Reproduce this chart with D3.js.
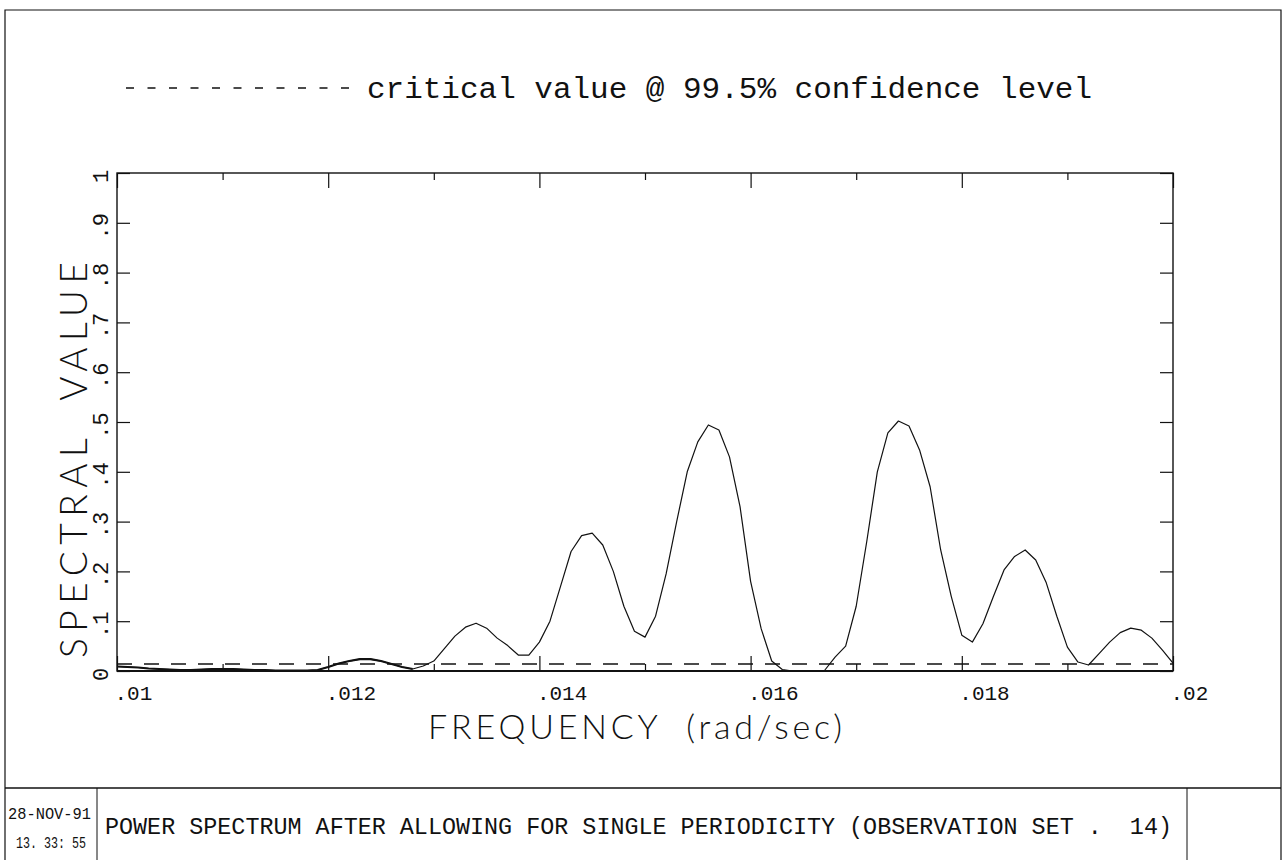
<!DOCTYPE html>
<html>
<head>
<meta charset="utf-8">
<script src="https://cdn.jsdelivr.net/npm/d3@7"></script>
<style>
  html, body { margin: 0; padding: 0; background: #fff; }
  svg { display: block; }
  text { font-family: "Liberation Mono", "DejaVu Sans Mono", monospace; fill: #111; white-space: pre; }
  .thin { font-family: "Lato", "Liberation Sans", sans-serif; font-weight: 300; }
</style>
</head>
<body>
<svg id="chart" width="1285" height="860"></svg>
<script>
// ---------------- data ----------------
const freqStart = 0.0100;
const freqStep = 0.0001;
// spectral value at frequencies .0100, .0101, ... .0200
const spectralValues = [
  0.009, 0.008, 0.007, 0.005, 0.004, 0.003, 0.002, 0.002, 0.003, 0.004,
  0.004, 0.004, 0.003, 0.002, 0.002, 0.001, 0.001, 0.001, 0.001, 0.002,
  0.008, 0.015, 0.020, 0.024, 0.024, 0.020, 0.014, 0.008, 0.004, 0.010,
  0.020, 0.045, 0.070, 0.088, 0.096, 0.086, 0.066, 0.051, 0.032, 0.032,
  0.058, 0.100, 0.170, 0.240, 0.272, 0.277, 0.253, 0.200, 0.130, 0.080,
  0.068, 0.110, 0.195, 0.300, 0.400, 0.460, 0.494, 0.484, 0.430, 0.330,
  0.180, 0.085, 0.020, 0.003, 0.000, 0.000, 0.000, 0.001, 0.028, 0.050,
  0.130, 0.260, 0.400, 0.478, 0.502, 0.492, 0.444, 0.370, 0.243, 0.150,
  0.072, 0.058, 0.095, 0.150, 0.203, 0.230, 0.243, 0.223, 0.177, 0.110,
  0.048, 0.018, 0.012, 0.035, 0.058, 0.077, 0.086, 0.082, 0.066, 0.042,
  0.016
];
const criticalValue = 0.014;
const boldUntilFreq = 0.0128;   // left part of the curve is drawn heavier in the original

const xMajorTicks = [0.010, 0.012, 0.014, 0.016, 0.018, 0.020];
const xMinorTicks = [0.011, 0.013, 0.015, 0.017, 0.019];
const yTicks = [0, 0.1, 0.2, 0.3, 0.4, 0.5, 0.6, 0.7, 0.8, 0.9, 1];

const legendText = "critical value @ 99.5% confidence level";
const xTitle = "FREQUENCY  (rad/sec)";
const yTitle = "SPECTRAL  VALUE";
const footerDate = "28-NOV-91";
const footerTime = "13. 33: 55";
const footerCaption = "POWER SPECTRUM AFTER ALLOWING FOR SINGLE PERIODICITY (OBSERVATION SET .  14)";

const points = spectralValues.map((v, i) => ({ f: freqStart + i * freqStep, v }));

// ---------------- layout ----------------
const svg = d3.select("#chart");
const plot = { left: 117, right: 1173, top: 173, bottom: 671 };

const x = d3.scaleLinear().domain([0.01, 0.02]).range([plot.left, plot.right]);
const y = d3.scaleLinear().domain([0, 1]).range([plot.bottom, plot.top]);

const stroke = "#111";

// outer page frame
svg.append("path")
  .attr("d", "M5,870 L5,10 L1281,10 L1281,870")
  .attr("fill", "none").attr("stroke", stroke).attr("stroke-width", 1.2);
svg.append("line").attr("x1", 5).attr("x2", 1281).attr("y1", 788).attr("y2", 788)
  .attr("stroke", stroke).attr("stroke-width", 1.6);
svg.append("line").attr("x1", 97).attr("x2", 97).attr("y1", 788).attr("y2", 860)
  .attr("stroke", stroke).attr("stroke-width", 1);
svg.append("line").attr("x1", 1187).attr("x2", 1187).attr("y1", 788).attr("y2", 860)
  .attr("stroke", stroke).attr("stroke-width", 1);

// footer text
svg.append("text").attr("x", 8).attr("y", 819).attr("font-size", 16)
  .attr("textLength", 83).attr("lengthAdjust", "spacingAndGlyphs").text(footerDate);
svg.append("text").attr("x", 16).attr("y", 848).attr("font-size", 16)
  .attr("textLength", 70).attr("lengthAdjust", "spacingAndGlyphs").text(footerTime);
svg.append("text").attr("x", 105).attr("y", 834).attr("font-size", 23)
  .attr("textLength", 1067).attr("lengthAdjust", "spacingAndGlyphs").text(footerCaption);

// legend
svg.append("line").attr("x1", 126).attr("x2", 358).attr("y1", 88).attr("y2", 88)
  .attr("stroke", stroke).attr("stroke-width", 1.3).attr("stroke-dasharray", "8,13.5");
svg.append("text").attr("x", 367).attr("y", 98).attr("font-size", 29)
  .attr("textLength", 725).attr("lengthAdjust", "spacingAndGlyphs").text(legendText);

// axes
const fmtX = v => String(+v.toFixed(3)).replace(/^0\./, ".");
const fmtY = v => String(+v.toFixed(1)).replace(/^0\./, ".");

const gxMajor = svg.append("g").attr("transform", `translate(0,${plot.bottom})`)
  .call(d3.axisBottom(x).tickValues(xMajorTicks).tickSizeInner(-15).tickSizeOuter(0).tickFormat(fmtX));
gxMajor.selectAll("text")
  .attr("text-anchor", "start").attr("dx", -3).attr("y", 29).attr("dy", 0)
  .attr("font-size", 21).style("font-family", "'Liberation Mono', monospace").attr("fill", "#111");
svg.append("g").attr("transform", `translate(0,${plot.bottom})`)
  .call(d3.axisBottom(x).tickValues(xMinorTicks).tickSizeInner(-7).tickSizeOuter(0).tickFormat(""));
svg.append("g").attr("transform", `translate(0,${plot.top})`)
  .call(d3.axisTop(x).tickValues(xMajorTicks).tickSizeInner(-15).tickSizeOuter(0).tickFormat(""));
svg.append("g").attr("transform", `translate(0,${plot.top})`)
  .call(d3.axisTop(x).tickValues(xMinorTicks).tickSizeInner(-7).tickSizeOuter(0).tickFormat(""));

const gy = svg.append("g").attr("transform", `translate(${plot.left},0)`)
  .call(d3.axisLeft(y).tickValues(yTicks).tickSizeInner(-13).tickSizeOuter(0).tickFormat(fmtY));
gy.selectAll(".tick text")
  .attr("x", null).attr("dy", null)
  .attr("text-anchor", "middle")
  .attr("transform", "translate(-9,3) rotate(-90)")
  .attr("font-size", 22).style("font-family", "'Liberation Mono', monospace").attr("fill", "#111");
svg.append("g").attr("transform", `translate(${plot.right},0)`)
  .call(d3.axisRight(y).tickValues(yTicks).tickSizeInner(-13).tickSizeOuter(0).tickFormat(""));

svg.selectAll(".domain").remove();
svg.selectAll(".tick line").attr("stroke", stroke).attr("stroke-width", 1.2);

// plot frame
svg.append("rect")
  .attr("x", plot.left).attr("y", plot.top)
  .attr("width", plot.right - plot.left).attr("height", plot.bottom - plot.top)
  .attr("fill", "none").attr("stroke", stroke).attr("stroke-width", 1.4);
svg.append("line").attr("x1", plot.left).attr("x2", plot.right)
  .attr("y1", plot.bottom).attr("y2", plot.bottom)
  .attr("stroke", stroke).attr("stroke-width", 2);

// critical value line
svg.append("line")
  .attr("x1", x(0.01)).attr("x2", x(0.02))
  .attr("y1", y(criticalValue)).attr("y2", y(criticalValue))
  .attr("stroke", stroke).attr("stroke-width", 1.5).attr("stroke-dasharray", "15,12");

// spectrum curve
const line = d3.line().x(d => x(d.f)).y(d => y(d.v));
svg.append("path").datum(points)
  .attr("d", line).attr("fill", "none").attr("stroke", stroke).attr("stroke-width", 1.2)
  .attr("stroke-linejoin", "round");
svg.append("path").datum(points.filter(d => d.f <= boldUntilFreq + 1e-9))
  .attr("d", line).attr("fill", "none").attr("stroke", stroke).attr("stroke-width", 2.2)
  .attr("stroke-linejoin", "round");

// axis titles
svg.append("text").attr("class", "thin").attr("x", 428).attr("y", 739).attr("font-size", 34)
  .attr("textLength", 414).attr("lengthAdjust", "spacing").text(xTitle);
svg.append("text").attr("class", "thin")
  .attr("transform", "translate(87,658) rotate(-90)")
  .attr("font-size", 37)
  .attr("textLength", 396).attr("lengthAdjust", "spacing").text(yTitle);
</script>
</body>
</html>
